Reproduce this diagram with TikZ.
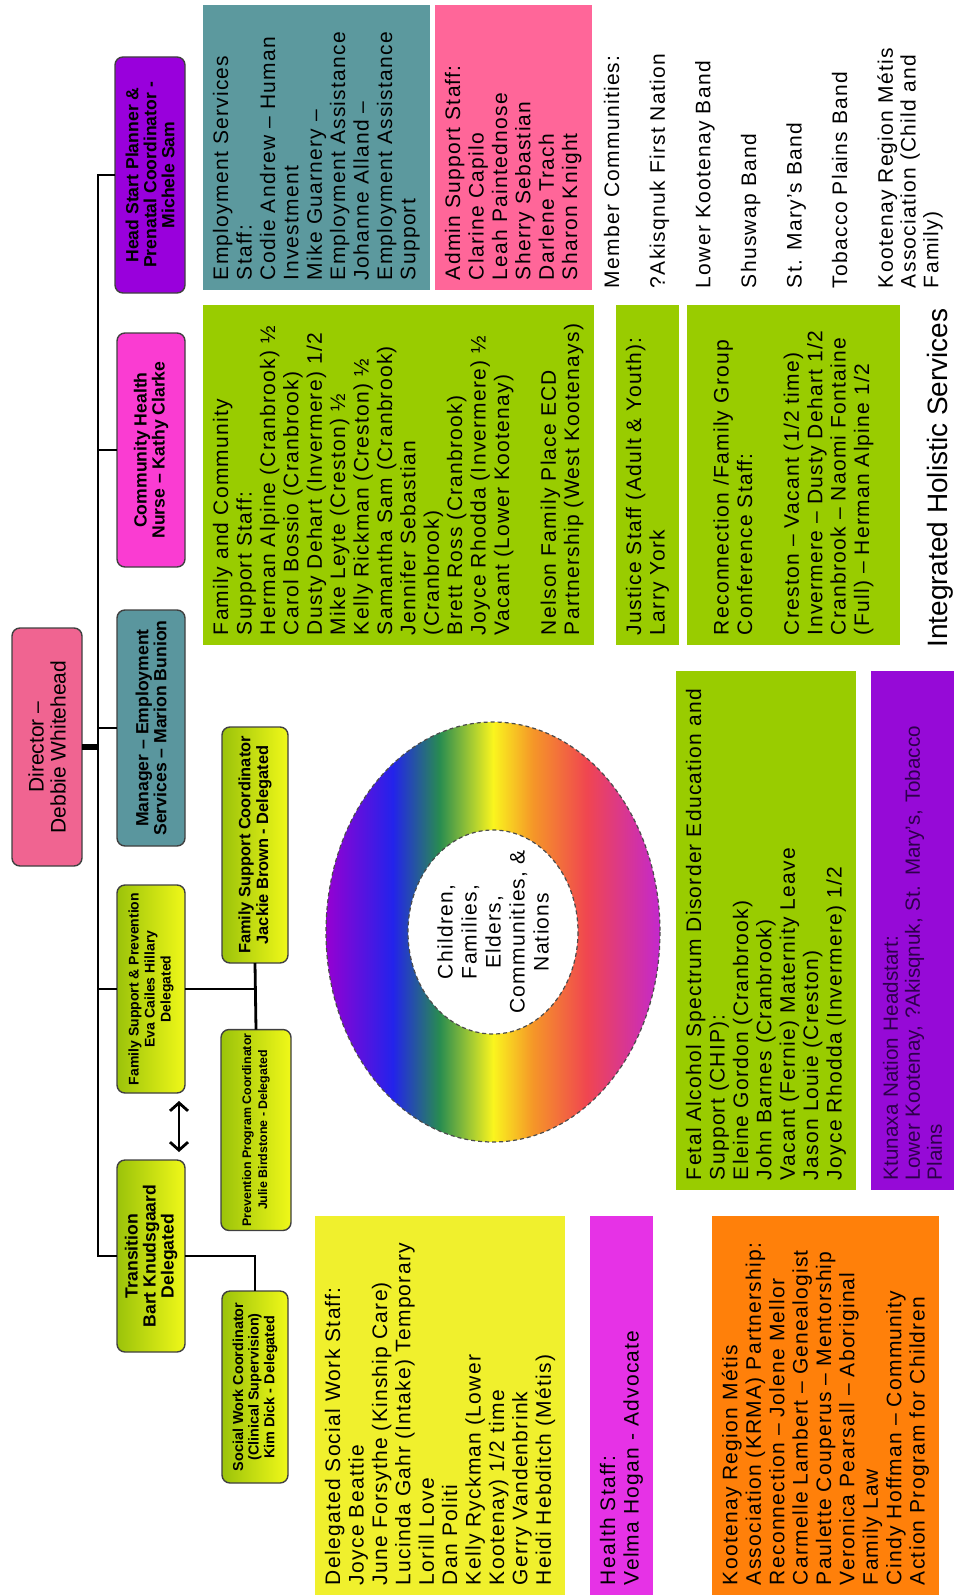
\documentclass[tikz,border=0pt]{standalone}
\usepackage{fontspec}
\setmainfont{Liberation Sans}
\newfontfamily\stafffont[Ligatures=TeX,LetterSpace=6]{Liberation Sans}
\usepackage{tikz}
\usetikzlibrary{positioning}
\usetikzlibrary{arrows.meta}

\definecolor{dirpink}{RGB}{240,100,145}
\definecolor{hspurple}{RGB}{153,0,220}
\definecolor{nursepink}{RGB}{250,60,210}
\definecolor{mgrteal}{RGB}{90,150,158}
\definecolor{limegreen}{RGB}{155,195,10}
\definecolor{limeyellow}{RGB}{240,248,25}
\definecolor{empteal}{RGB}{92,153,158}
\definecolor{adminpink}{RGB}{255,102,153}
\definecolor{staffgreen}{RGB}{153,204,0}
\definecolor{swyellow}{RGB}{240,240,45}
\definecolor{healthmag}{RGB}{230,50,230}
\definecolor{krmaorange}{RGB}{255,128,10}
\definecolor{ktupurple}{RGB}{150,10,215}
\definecolor{ktutext}{RGB}{45,0,75}
\definecolor{ringpurple}{RGB}{150,0,210}
\definecolor{ringblue}{RGB}{35,35,235}
\definecolor{ringgreen}{RGB}{40,140,80}
\definecolor{ringyellow}{RGB}{250,245,30}
\definecolor{ringorange}{RGB}{245,150,40}
\definecolor{ringred}{RGB}{240,70,80}
\definecolor{ringmagenta}{RGB}{195,40,205}
\pgfdeclarehorizontalshading{rainbowring}{100bp}{color(0bp)=(ringpurple); color(25bp)=(ringpurple); color(35bp)=(ringblue); color(42bp)=(ringgreen); color(50bp)=(ringyellow); color(56bp)=(ringorange); color(64bp)=(ringred); color(75bp)=(ringmagenta); color(100bp)=(ringmagenta)}

\begin{document}
\begin{tikzpicture}[x=0.5pt,y=-0.5pt,every node/.style={inner sep=2pt,outer sep=0pt},
    head/.style={rotate=90,draw=black!75,line width=0.7pt,rounded corners=4pt,align=center,font=\fontsize{8.8}{9}\selectfont\bfseries},
    lime/.style={left color=limegreen,right color=limeyellow},
    staff/.style={rotate=90,anchor=north west,align=left,inner sep=5pt,font=\stafffont\fontsize{10.5}{11.7}\selectfont},
    link/.style={line width=1.4pt},
    ringedge/.style={draw=black!70,line width=0.6pt,dash pattern=on 2pt off 1.5pt}]
    \useasboundingbox (0,0) rectangle (954,1595);
    \node (dir) [head,fill=dirpink,font=\fontsize{10.5}{11}\selectfont,minimum width=119pt,minimum height=35pt] at (47,747) {Director --\\Debbie Whitehead};
    \node (hsp) [head,fill=hspurple,minimum width=118pt,minimum height=35pt] at (150,175) {Head Start Planner \&\\Prenatal Coordinator -\\Michele Sam};
    \node (chn) [head,fill=nursepink,minimum width=117pt,minimum height=34pt] at (151,450) {Community Health\\Nurse -- Kathy Clarke};
    \node (mgr) [head,fill=mgrteal,minimum width=118pt,minimum height=34pt] at (151,728) {Manager -- Employment\\Services -- Marion Bunion};
    \node (fsp) [head,lime,font=\fontsize{7}{8}\selectfont\bfseries,minimum width=104pt,minimum height=34pt] at (151,989) {Family Support \& Prevention\\Eva Cailes Hillary\\Delegated};
    \node (trn) [head,lime,minimum width=96pt,minimum height=34pt] at (151,1256) {Transition\\Bart Knudsgaard\\Delegated};
    \node (fsc) [head,lime,font=\fontsize{8.2}{8.8}\selectfont\bfseries,minimum width=118pt,minimum height=33pt] at (255,845) {Family Support Coordinator\\Jackie Brown - Delegated};
    \node (ppc) [head,lime,font=\fontsize{6.2}{8}\selectfont\bfseries,minimum width=98pt,minimum height=35pt] at (256,1130) {Prevention Program Coordinator\\Julie Birdstone - Delegated};
    \node (swc) [head,lime,font=\fontsize{7.2}{7.8}\selectfont\bfseries,minimum width=96pt,minimum height=33pt] at (255,1387) {Social Work Coordinator\\(Clinical Supervision)\\Kim Dick - Delegated};
    \coordinate (tk) at (98,0);
    \draw[link] (hsp.north) -- (hsp.north -| tk) |- (trn.north);
    \draw[link] (chn.north) -- (chn.north -| tk);
    \draw[link] (mgr.north) -- (mgr.north -| tk);
    \draw[link] (fsp.north) -- (fsp.north -| tk);
    \draw[link,line width=2.6pt] (dir.south) -- (dir.south -| tk);
    \draw[link] (fsp.south) -- (fsp.south -| fsc.west);
    \draw[link] (fsc.west) -- (ppc.east);
    \draw[link] (trn.south) -| (swc.east);
    \draw[link,{Straight Barb[length=4pt,width=9pt]}-{Straight Barb[length=4pt,width=9pt]}] ([xshift=14pt,yshift=-4pt]fsp.west) -- ([xshift=14pt,yshift=4pt]trn.east);
    \coordinate (ring) at (493,932);
    \shade[shading=rainbowring,even odd rule] (ring) ellipse [x radius=167,y radius=210] (ring) ellipse [x radius=85,y radius=102];
    \draw[ringedge] (ring) ellipse [x radius=167,y radius=210];
    \draw[ringedge] (ring) ellipse [x radius=85,y radius=102];
    \node (core) [rotate=90,align=center,font=\stafffont\fontsize{10.5}{12}\selectfont] at (ring) {Children,\\Families,\\Elders,\\Communities, \&\\Nations};
    \node (emp) [staff,fill=empteal,minimum width=142.5pt,minimum height=112pt,text width=132.5pt] at (203,290) {Employment Services\\Staff:\\Codie Andrew -- Human\\Investment\\Mike Guarnery --\\Employment Assistance\\Johanne Alland --\\Employment Assistance\\Support};
    \node (adm) [staff,fill=adminpink,minimum width=142.5pt,minimum height=76pt,text width=132.5pt] at (435,290) {Admin Support Staff:\\Clarine Capilo\\Leah Paintednose\\Sherry Sebastian\\Darlene Trach\\Sharon Knight};
    \node (fcs) [staff,fill=staffgreen,minimum width=170pt,minimum height=192pt,text width=160pt] at (203,645) {Family and Community\\Support Staff:\\Herman Alpine (Cranbrook) ½\\Carol Bossio (Cranbrook)\\Dusty Dehart (Invermere) 1/2\\Mike Leyte (Creston) ½\\Kelly Rickman (Creston) ½\\Samantha Sam (Cranbrook)\\Jennifer Sebastian\\(Cranbrook)\\Brett Ross (Cranbrook)\\Joyce Rhodda (Invermere) ½\\Vacant (Lower Kootenay)\\[11.7pt]Nelson Family Place ECD\\Partnership (West Kootenays)};
    \node (jus) [staff,fill=staffgreen,minimum width=170pt,minimum height=31pt,text width=160pt] at (616,645) {Justice Staff (Adult \& Youth):\\Larry York};
    \node (rec) [staff,fill=staffgreen,minimum width=170pt,minimum height=106.5pt,text width=160pt] at (687,645) {Reconnection /Family Group\\Conference Staff:\\[11.7pt]Creston -- Vacant (1/2 time)\\Invermere -- Dusty Dehart 1/2\\Cranbrook -- Naomi Fontaine\\(Full) -- Herman Alpine 1/2};
    \node (mem) [rotate=90,anchor=north west,align=left,inner sep=0pt,font=\stafffont\fontsize{10.5}{11.4}\selectfont] at (604,288) {Member Communities:\\[11.4pt]?Akisqnuk First Nation\\[11.4pt]Lower Kootenay Band\\[11.4pt]Shuswap Band\\[11.4pt]St. Mary's Band\\[11.4pt]Tobacco Plains Band\\[11.4pt]Kootenay Region Métis\\Association (Child and\\Family)};
    \node (ihs) [rotate=90,font=\fontsize{14}{16}\selectfont] at (940,478) {Integrated Holistic Services};
    \node (fas) [staff,fill=staffgreen,minimum width=259.5pt,minimum height=87pt,text width=249.5pt] at (676,1190) {Fetal Alcohol Spectrum Disorder Education and\\Support (CHIP):\\Eleine Gordon (Cranbrook)\\John Barnes (Cranbrook)\\Vacant (Fernie) Maternity Leave\\Jason Louie (Creston)\\Joyce Rhodda (Invermere) 1/2};
    \node (ktu) [staff,fill=ktupurple,text=ktutext,font=\fontsize{10.3}{11}\selectfont,minimum width=259.5pt,minimum height=41.5pt,text width=249.5pt] at (871,1190) {Ktunaxa Nation Headstart:\\Lower Kootenay, ?Akisqnuk, St. Mary's, Tobacco\\Plains};
    \node (dsw) [staff,fill=swyellow,minimum width=189.5pt,minimum height=122pt,text width=179.5pt] at (315,1595) {Delegated Social Work Staff:\\Joyce Beattie\\June Forsythe (Kinship Care)\\Lucinda Gahr (Intake) Temporary\\Lorill Love\\Dan Politi\\Kelly Ryckman (Lower\\Kootenay) 1/2 time\\Gerry Vandenbrink\\Heidi Hebditch (Métis)};
    \node (hlt) [staff,fill=healthmag,minimum width=189.5pt,minimum height=30.5pt,text width=179.5pt] at (590,1595) {Health Staff:\\Velma Hogan - Advocate};
    \node (krm) [staff,fill=krmaorange,minimum width=189.5pt,minimum height=112pt,text width=179.5pt] at (712,1595) {Kootenay Region Métis\\Association (KRMA) Partnership:\\Reconnection -- Jolene Mellor\\Carmelle Lambert -- Genealogist\\Paulette Couperus -- Mentorship\\Veronica Pearsall -- Aboriginal\\Family Law\\Cindy Hoffman -- Community\\Action Program for Children};
\end{tikzpicture}
\end{document}
